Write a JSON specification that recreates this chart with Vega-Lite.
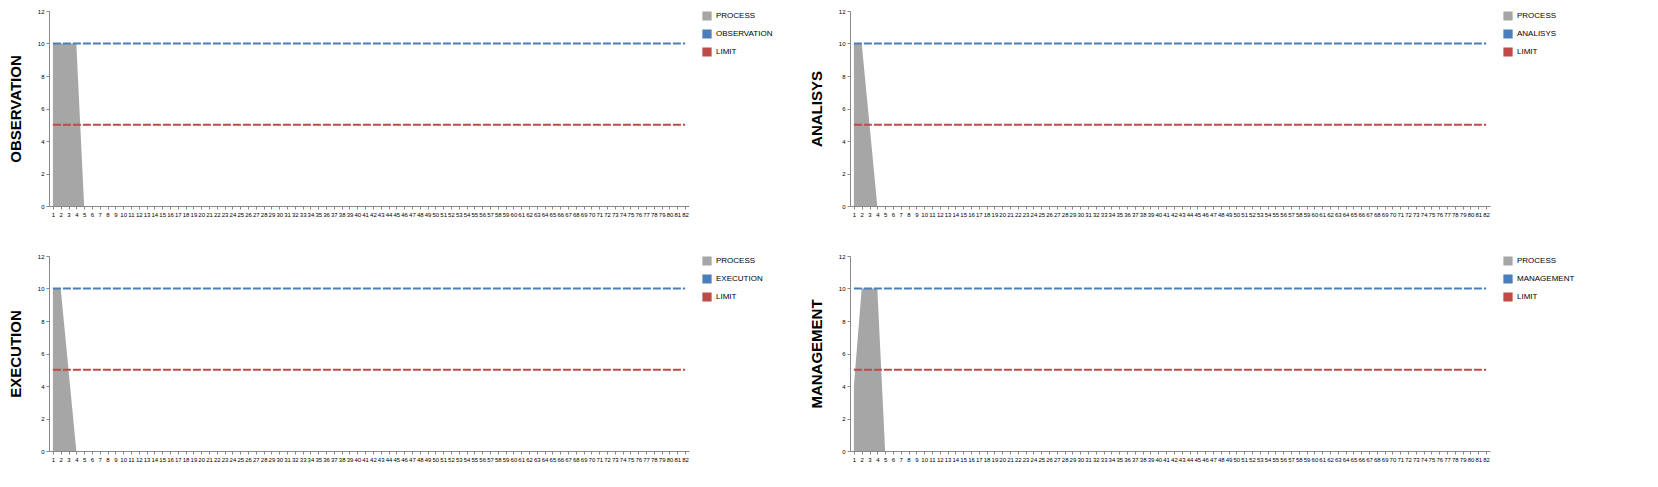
{
  "$schema": "https://vega.github.io/schema/vega-lite/v6.json",
  "background": "white",
  "padding": {"left": 8, "top": 8, "right": 4, "bottom": 4},
  "datasets": {
    "d": [
      {"p": "OBSERVATION", "s": "PROCESS", "x": 1, "y": 10},
      {"p": "OBSERVATION", "s": "PROCESS", "x": 2, "y": 10},
      {"p": "OBSERVATION", "s": "PROCESS", "x": 3, "y": 10},
      {"p": "OBSERVATION", "s": "PROCESS", "x": 4, "y": 10},
      {"p": "OBSERVATION", "s": "PROCESS", "x": 5, "y": 0},
      {"p": "OBSERVATION", "s": "OBSERVATION", "x": 1, "y": 10},
      {"p": "OBSERVATION", "s": "OBSERVATION", "x": 82, "y": 10},
      {"p": "OBSERVATION", "s": "LIMIT", "x": 1, "y": 5},
      {"p": "OBSERVATION", "s": "LIMIT", "x": 82, "y": 5},
      {"p": "ANALISYS", "s": "PROCESS", "x": 1, "y": 10},
      {"p": "ANALISYS", "s": "PROCESS", "x": 2, "y": 10},
      {"p": "ANALISYS", "s": "PROCESS", "x": 3, "y": 5},
      {"p": "ANALISYS", "s": "PROCESS", "x": 4, "y": 0},
      {"p": "ANALISYS", "s": "ANALISYS", "x": 1, "y": 10},
      {"p": "ANALISYS", "s": "ANALISYS", "x": 82, "y": 10},
      {"p": "ANALISYS", "s": "LIMIT", "x": 1, "y": 5},
      {"p": "ANALISYS", "s": "LIMIT", "x": 82, "y": 5},
      {"p": "EXECUTION", "s": "PROCESS", "x": 1, "y": 10},
      {"p": "EXECUTION", "s": "PROCESS", "x": 2, "y": 10},
      {"p": "EXECUTION", "s": "PROCESS", "x": 3, "y": 5},
      {"p": "EXECUTION", "s": "PROCESS", "x": 4, "y": 0},
      {"p": "EXECUTION", "s": "EXECUTION", "x": 1, "y": 10},
      {"p": "EXECUTION", "s": "EXECUTION", "x": 82, "y": 10},
      {"p": "EXECUTION", "s": "LIMIT", "x": 1, "y": 5},
      {"p": "EXECUTION", "s": "LIMIT", "x": 82, "y": 5},
      {"p": "MANAGEMENT", "s": "PROCESS", "x": 1, "y": 4},
      {"p": "MANAGEMENT", "s": "PROCESS", "x": 2, "y": 10},
      {"p": "MANAGEMENT", "s": "PROCESS", "x": 3, "y": 10},
      {"p": "MANAGEMENT", "s": "PROCESS", "x": 4, "y": 10},
      {"p": "MANAGEMENT", "s": "PROCESS", "x": 5, "y": 0},
      {"p": "MANAGEMENT", "s": "MANAGEMENT", "x": 1, "y": 10},
      {"p": "MANAGEMENT", "s": "MANAGEMENT", "x": 82, "y": 10},
      {"p": "MANAGEMENT", "s": "LIMIT", "x": 1, "y": 5},
      {"p": "MANAGEMENT", "s": "LIMIT", "x": 82, "y": 5}
    ]
  },
  "data": {"name": "d"},
  "columns": 2,
  "spacing": {"row": 36, "column": 36},
  "concat": [
    {
      "width": 640, "height": 195,
      "transform": [{"filter": "datum.p === 'OBSERVATION'"}],
      "encoding": {
        "x": {"field": "x", "type": "quantitative", "scale": {"domain": [0.5, 82.5], "nice": false}, "axis": {"values": [1,2,3,4,5,6,7,8,9,10,11,12,13,14,15,16,17,18,19,20,21,22,23,24,25,26,27,28,29,30,31,32,33,34,35,36,37,38,39,40,41,42,43,44,45,46,47,48,49,50,51,52,53,54,55,56,57,58,59,60,61,62,63,64,65,66,67,68,69,70,71,72,73,74,75,76,77,78,79,80,81,82], "title": null}},
        "y": {"field": "y", "type": "quantitative", "scale": {"domain": [0, 12]}, "axis": {"values": [0,2,4,6,8,10,12], "title": "OBSERVATION"}},
        "color": {"field": "s", "type": "nominal", "title": null, "scale": {"domain": ["PROCESS", "OBSERVATION", "LIMIT"], "range": ["#a6a6a6", "#4a7ebb", "#be4b48"]}}
      },
      "layer": [
        {"transform": [{"filter": "datum.s === 'PROCESS'"}], "mark": {"type": "area", "opacity": 1}},
        {"transform": [{"filter": "datum.s !== 'PROCESS'"}], "mark": {"type": "line", "strokeWidth": 2, "strokeDash": [8, 2]}}
      ]
    },
    {
      "width": 640, "height": 195,
      "transform": [{"filter": "datum.p === 'ANALISYS'"}],
      "encoding": {
        "x": {"field": "x", "type": "quantitative", "scale": {"domain": [0.5, 82.5], "nice": false}, "axis": {"values": [1,2,3,4,5,6,7,8,9,10,11,12,13,14,15,16,17,18,19,20,21,22,23,24,25,26,27,28,29,30,31,32,33,34,35,36,37,38,39,40,41,42,43,44,45,46,47,48,49,50,51,52,53,54,55,56,57,58,59,60,61,62,63,64,65,66,67,68,69,70,71,72,73,74,75,76,77,78,79,80,81,82], "title": null}},
        "y": {"field": "y", "type": "quantitative", "scale": {"domain": [0, 12]}, "axis": {"values": [0,2,4,6,8,10,12], "title": "ANALISYS"}},
        "color": {"field": "s", "type": "nominal", "title": null, "scale": {"domain": ["PROCESS", "ANALISYS", "LIMIT"], "range": ["#a6a6a6", "#4a7ebb", "#be4b48"]}}
      },
      "layer": [
        {"transform": [{"filter": "datum.s === 'PROCESS'"}], "mark": {"type": "area", "opacity": 1}},
        {"transform": [{"filter": "datum.s !== 'PROCESS'"}], "mark": {"type": "line", "strokeWidth": 2, "strokeDash": [8, 2]}}
      ]
    },
    {
      "width": 640, "height": 195,
      "transform": [{"filter": "datum.p === 'EXECUTION'"}],
      "encoding": {
        "x": {"field": "x", "type": "quantitative", "scale": {"domain": [0.5, 82.5], "nice": false}, "axis": {"values": [1,2,3,4,5,6,7,8,9,10,11,12,13,14,15,16,17,18,19,20,21,22,23,24,25,26,27,28,29,30,31,32,33,34,35,36,37,38,39,40,41,42,43,44,45,46,47,48,49,50,51,52,53,54,55,56,57,58,59,60,61,62,63,64,65,66,67,68,69,70,71,72,73,74,75,76,77,78,79,80,81,82], "title": null}},
        "y": {"field": "y", "type": "quantitative", "scale": {"domain": [0, 12]}, "axis": {"values": [0,2,4,6,8,10,12], "title": "EXECUTION"}},
        "color": {"field": "s", "type": "nominal", "title": null, "scale": {"domain": ["PROCESS", "EXECUTION", "LIMIT"], "range": ["#a6a6a6", "#4a7ebb", "#be4b48"]}}
      },
      "layer": [
        {"transform": [{"filter": "datum.s === 'PROCESS'"}], "mark": {"type": "area", "opacity": 1}},
        {"transform": [{"filter": "datum.s !== 'PROCESS'"}], "mark": {"type": "line", "strokeWidth": 2, "strokeDash": [8, 2]}}
      ]
    },
    {
      "width": 640, "height": 195,
      "transform": [{"filter": "datum.p === 'MANAGEMENT'"}],
      "encoding": {
        "x": {"field": "x", "type": "quantitative", "scale": {"domain": [0.5, 82.5], "nice": false}, "axis": {"values": [1,2,3,4,5,6,7,8,9,10,11,12,13,14,15,16,17,18,19,20,21,22,23,24,25,26,27,28,29,30,31,32,33,34,35,36,37,38,39,40,41,42,43,44,45,46,47,48,49,50,51,52,53,54,55,56,57,58,59,60,61,62,63,64,65,66,67,68,69,70,71,72,73,74,75,76,77,78,79,80,81,82], "title": null}},
        "y": {"field": "y", "type": "quantitative", "scale": {"domain": [0, 12]}, "axis": {"values": [0,2,4,6,8,10,12], "title": "MANAGEMENT"}},
        "color": {"field": "s", "type": "nominal", "title": null, "scale": {"domain": ["PROCESS", "MANAGEMENT", "LIMIT"], "range": ["#a6a6a6", "#4a7ebb", "#be4b48"]}}
      },
      "layer": [
        {"transform": [{"filter": "datum.s === 'PROCESS'"}], "mark": {"type": "area", "opacity": 1}},
        {"transform": [{"filter": "datum.s !== 'PROCESS'"}], "mark": {"type": "line", "strokeWidth": 2, "strokeDash": [8, 2]}}
      ]
    }
  ],
  "resolve": {"scale": {"color": "independent"}, "legend": {"color": "independent"}},
  "config": {
    "font": "Liberation Sans",
    "view": {"stroke": null},
    "axis": {"grid": false, "domainColor": "#888888", "tickColor": "#888888", "tickSize": 3, "labelFontSize": 6, "labelColor": "#000000", "titleFontSize": 15, "titleFontWeight": "bold", "titleColor": "#000000"},
    "axisX": {"labelAngle": 0, "labelPadding": 2, "labelOverlap": false},
    "axisY": {"titlePadding": 14},
    "legend": {"labelFontSize": 8, "symbolSize": 60, "symbolType": "square", "orient": "right", "offset": 12, "rowPadding": 4, "padding": 0}
  }
}
